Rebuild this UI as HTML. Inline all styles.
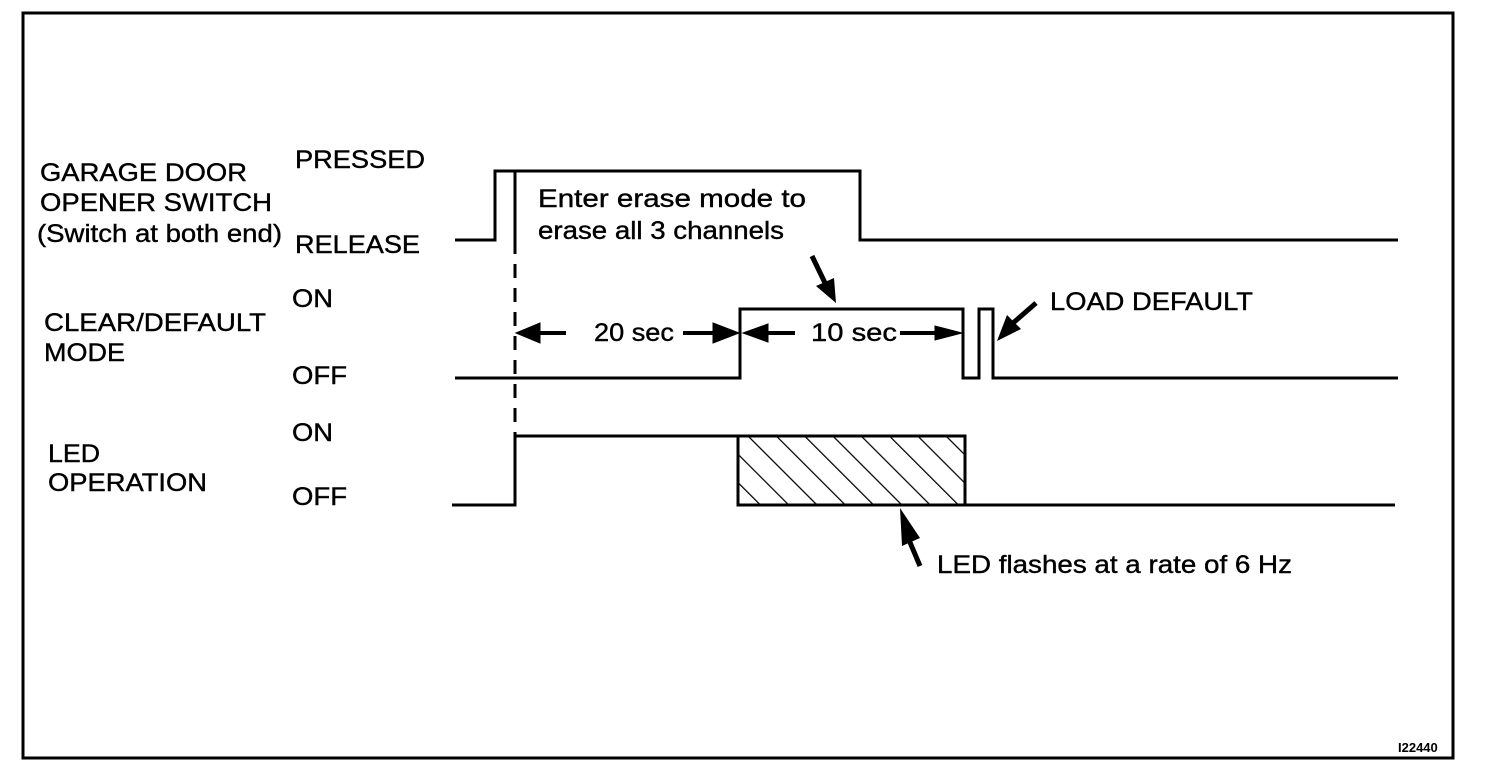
<!DOCTYPE html>
<html><head><style>html,body{margin:0;padding:0;background:#fff}svg{display:block}</style></head>
<body>
<svg width="1504" height="784" viewBox="0 0 1504 784" xmlns="http://www.w3.org/2000/svg">
<defs>
<pattern id="h" patternUnits="userSpaceOnUse" width="20" height="20" patternTransform="rotate(-45)">
<line x1="0" y1="0" x2="0" y2="20" stroke="#000" stroke-width="2.5"/>
</pattern>
</defs>
<rect x="23" y="13" width="1430" height="745" fill="none" stroke="#000" stroke-width="3"/>
<g fill="none" stroke="#000" stroke-width="3">
<polyline points="455,240 495,240 495,171 860,171 860,240 1398,240"/>
<line x1="515" y1="171" x2="515" y2="240"/>
<line x1="515" y1="240" x2="515" y2="436" stroke-dasharray="14,10"/>
<polyline points="455,378 740,378 740,309 963,309 963,378 979,378 979,309 993,309 993,378 1398,378"/>
<polyline points="452,505 515,505 515,436 738,436"/>
<rect x="738" y="436" width="227" height="69" fill="url(#h)"/>
<line x1="738" y1="505" x2="1395" y2="505"/>
</g>
<g fill="none" stroke="#000" stroke-width="4">
<line x1="538" y1="333" x2="566" y2="333"/>
<line x1="683" y1="333" x2="715" y2="333"/>
<line x1="765" y1="333" x2="795" y2="333"/>
<line x1="900" y1="333" x2="938" y2="333"/>
</g>
<g fill="#000" stroke="#000" stroke-width="1">
<polygon points="516,333 540,323 540,343"/>
<polygon points="739,333 713,323 713,343"/>
<polygon points="743,333 768,324 768,342"/>
<polygon points="962,333 935,326 935,340"/>
</g>
<g stroke="#000" stroke-width="5" fill="#000">
<line x1="812" y1="256" x2="826" y2="285"/>
<line x1="1036" y1="303" x2="1013" y2="323"/>
<line x1="920" y1="566" x2="909" y2="540"/>
</g>
<g fill="#000">
<polygon points="836,303 816,286 834,278"/>
<polygon points="997,341 1007,315 1021,329"/>
<polygon points="900,508 920,538 902,546"/>
</g>
<g font-family="Liberation Sans, sans-serif" font-size="25" fill="#000" stroke="#000" stroke-width="0.4">
<text x="40" y="181" textLength="207" lengthAdjust="spacingAndGlyphs">GARAGE DOOR</text>
<text x="40" y="211" textLength="232" lengthAdjust="spacingAndGlyphs">OPENER SWITCH</text>
<text x="37" y="242" textLength="245" lengthAdjust="spacingAndGlyphs">(Switch at both end)</text>
<text x="295" y="168" textLength="130" lengthAdjust="spacingAndGlyphs">PRESSED</text>
<text x="295" y="253" textLength="125" lengthAdjust="spacingAndGlyphs">RELEASE</text>
<text x="292" y="307" textLength="41" lengthAdjust="spacingAndGlyphs">ON</text>
<text x="44" y="331" textLength="222" lengthAdjust="spacingAndGlyphs">CLEAR/DEFAULT</text>
<text x="44" y="361" textLength="81" lengthAdjust="spacingAndGlyphs">MODE</text>
<text x="292" y="384" textLength="55" lengthAdjust="spacingAndGlyphs">OFF</text>
<text x="292" y="441" textLength="41" lengthAdjust="spacingAndGlyphs">ON</text>
<text x="48" y="462" textLength="52" lengthAdjust="spacingAndGlyphs">LED</text>
<text x="48" y="491" textLength="159" lengthAdjust="spacingAndGlyphs">OPERATION</text>
<text x="292" y="505" textLength="55" lengthAdjust="spacingAndGlyphs">OFF</text>
<text x="538" y="207" textLength="268" lengthAdjust="spacingAndGlyphs">Enter erase mode to</text>
<text x="538" y="239" textLength="246" lengthAdjust="spacingAndGlyphs">erase all 3 channels</text>
<text x="594" y="341" textLength="80" lengthAdjust="spacingAndGlyphs">20 sec</text>
<text x="811" y="341" textLength="86" lengthAdjust="spacingAndGlyphs">10 sec</text>
<text x="1050" y="310" textLength="203" lengthAdjust="spacingAndGlyphs">LOAD DEFAULT</text>
<text x="937" y="573" textLength="355" lengthAdjust="spacingAndGlyphs">LED flashes at a rate of 6 Hz</text>
<text x="1398" y="752" font-size="13" font-weight="bold" stroke-width="0">I22440</text>
</g>
</svg>
</body></html>
